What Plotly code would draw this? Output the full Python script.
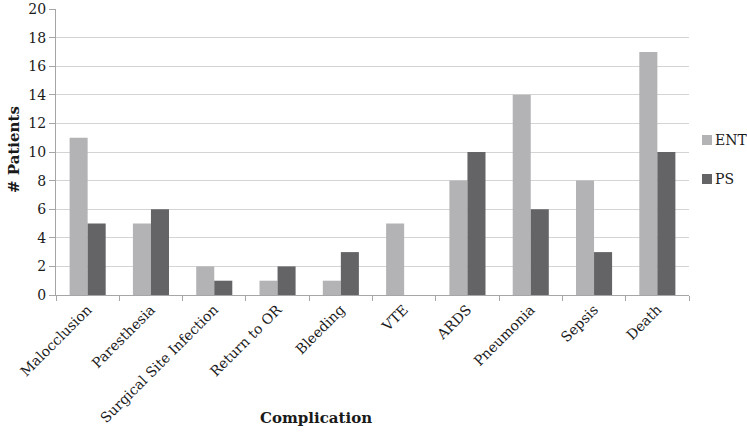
import plotly.graph_objects as go

categories = ["Malocclusion", "Paresthesia", "Surgical Site Infection", "Return to OR",
              "Bleeding", "VTE", "ARDS", "Pneumonia", "Sepsis", "Death"]
ent_values = [11, 5, 2, 1, 1, 5, 8, 14, 8, 17]
ps_values = [5, 6, 1, 2, 3, 0, 10, 6, 3, 10]
series_names = ["ENT", "PS"]
series_colors = ["#b3b3b5", "#646467"]

FONT = "DejaVu Serif"

fig = go.Figure()
for name, vals, col in zip(series_names, [ent_values, ps_values], series_colors):
    fig.add_trace(go.Bar(x=categories, y=vals, name=name, marker_color=col,
                         marker_line_width=0, showlegend=False))

L, R, T, B = 56, 58, 9, 141
W, H = 747, 436
pw = W - L - R
ph = H - T - B

def px_x(x):
    return (x - L) / pw

def px_y(y):
    return (H - B - y) / ph

# manual legend (symbol squares + labels)
shapes = []
annotations = []
for i, (name, col) in enumerate(zip(series_names, series_colors)):
    cy = 140 + 39 * i
    shapes.append(dict(type="rect", xref="paper", yref="paper",
                       x0=px_x(702), x1=px_x(712), y0=px_y(cy + 5), y1=px_y(cy - 5),
                       fillcolor=col, line_width=0))
    annotations.append(dict(text=name, x=px_x(713), y=px_y(cy), xref="paper", yref="paper",
                            xanchor="left", yanchor="middle", showarrow=False,
                            font=dict(size=14)))

annotations += [
    dict(text="<b># Patients</b>", x=px_x(14), y=px_y(150),
         xref="paper", yref="paper", xanchor="center", yanchor="middle",
         showarrow=False, textangle=-90, font=dict(size=15)),
    dict(text="<b>Complication</b>", x=px_x(316), y=px_y(418),
         xref="paper", yref="paper", xanchor="center", yanchor="middle",
         showarrow=False, font=dict(size=15)),
]

fig.update_layout(
    width=W, height=H,
    margin=dict(l=L, r=R, t=T, b=B, autoexpand=False),
    paper_bgcolor="white", plot_bgcolor="white",
    barmode="group", bargap=0.43, bargroupgap=0,
    font=dict(family=FONT, size=14, color="#1a1a1a"),
    showlegend=False,
    xaxis=dict(type="category", tickangle=-45, showline=True, linecolor="#a6a6a6",
               ticks="outside", tickson="boundaries", ticklen=5, tickcolor="#a6a6a6",
               showgrid=False, tickfont=dict(size=14), automargin=False),
    yaxis=dict(range=[0, 20], dtick=2, showline=True, linecolor="#a6a6a6",
               ticks="outside", ticklen=6, tickcolor="#a6a6a6",
               showgrid=True, gridcolor="#d4d4d4", zeroline=False,
               tickfont=dict(size=14), automargin=False, ticklabeloverflow="allow"),
    shapes=shapes,
    annotations=annotations,
)

fig.write_html("out.html", config={"displayModeBar": False},
               post_script="document.body.style.margin='0';document.body.style.overflow='hidden';")
